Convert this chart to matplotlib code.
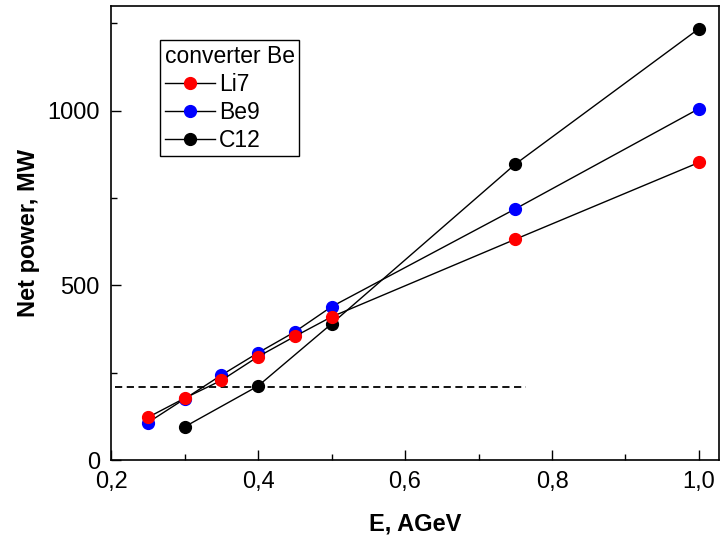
import matplotlib
matplotlib.use("Agg")
import matplotlib.pyplot as plt
from matplotlib.ticker import MultipleLocator, FuncFormatter

plt.rcParams['font.family'] = ['Liberation Sans', 'DejaVu Sans']

# Data
E_li = [0.25, 0.30, 0.35, 0.40, 0.45, 0.50, 0.75, 1.00]
P_li = [122, 177, 228, 296, 354, 410, 632, 852]
E_be = [0.25, 0.30, 0.35, 0.40, 0.45, 0.50, 0.75, 1.00]
P_be = [107, 175, 243, 307, 367, 439, 719, 1006]
E_c = [0.30, 0.40, 0.50, 0.75, 1.00]
P_c = [95, 212, 390, 847, 1235]
dash_x = [0.205, 0.765]
dash_y = [210, 210]

fig = plt.figure(figsize=(7.21, 5.40), dpi=100)
ax = fig.add_axes([0.154, 0.148, 0.843, 0.841])

h_c, = ax.plot(E_c, P_c, color='black', lw=1.0, marker='o', ms=8.5,
               mfc='black', mec='black', label='C12', zorder=3)
h_be, = ax.plot(E_be, P_be, color='black', lw=1.0, marker='o', ms=8.5,
                mfc='#0000ff', mec='#0000ff', label='Be9', zorder=4)
h_li, = ax.plot(E_li, P_li, color='black', lw=1.0, marker='o', ms=8.5,
                mfc='#ff0000', mec='#ff0000', label='Li7', zorder=5)
ax.plot(dash_x, dash_y, color='black', lw=1.3, ls=(0, (4, 2.5)), zorder=2)

ax.set_xlim(0.2, 1.027)
ax.set_ylim(0, 1300)

ax.xaxis.set_major_locator(MultipleLocator(0.2))
ax.xaxis.set_minor_locator(MultipleLocator(0.1))
ax.yaxis.set_major_locator(MultipleLocator(500))
ax.yaxis.set_minor_locator(MultipleLocator(250))
ax.xaxis.set_major_formatter(FuncFormatter(lambda v, p: f"{v:.1f}".replace('.', ',')))
ax.yaxis.set_major_formatter(FuncFormatter(lambda v, p: f"{int(round(v))}"))

ax.tick_params(which='major', direction='in', length=7, width=1.0, labelsize=17, pad=8,
               top=False, right=False)
ax.tick_params(which='minor', direction='in', length=4, width=1.0, top=False, right=False)

for s in ax.spines.values():
    s.set_linewidth(1.2)

ax.set_xlabel('E, AGeV', fontsize=17, fontweight='bold', labelpad=14)
ax.set_ylabel('Net power, MW', fontsize=17, fontweight='bold', labelpad=5)

leg = ax.legend(handles=[h_li, h_be, h_c], title='converter Be', loc='upper left',
                bbox_to_anchor=(0.081, 0.925), fontsize=16.5, title_fontsize=16.5,
                frameon=True, fancybox=False, edgecolor='black', framealpha=1,
                handlelength=2.2, handletextpad=0.15, borderpad=0.2,
                labelspacing=0.22, borderaxespad=0, alignment='left')
leg.get_frame().set_linewidth(1.0)

fig.savefig('out.png', dpi=100)
